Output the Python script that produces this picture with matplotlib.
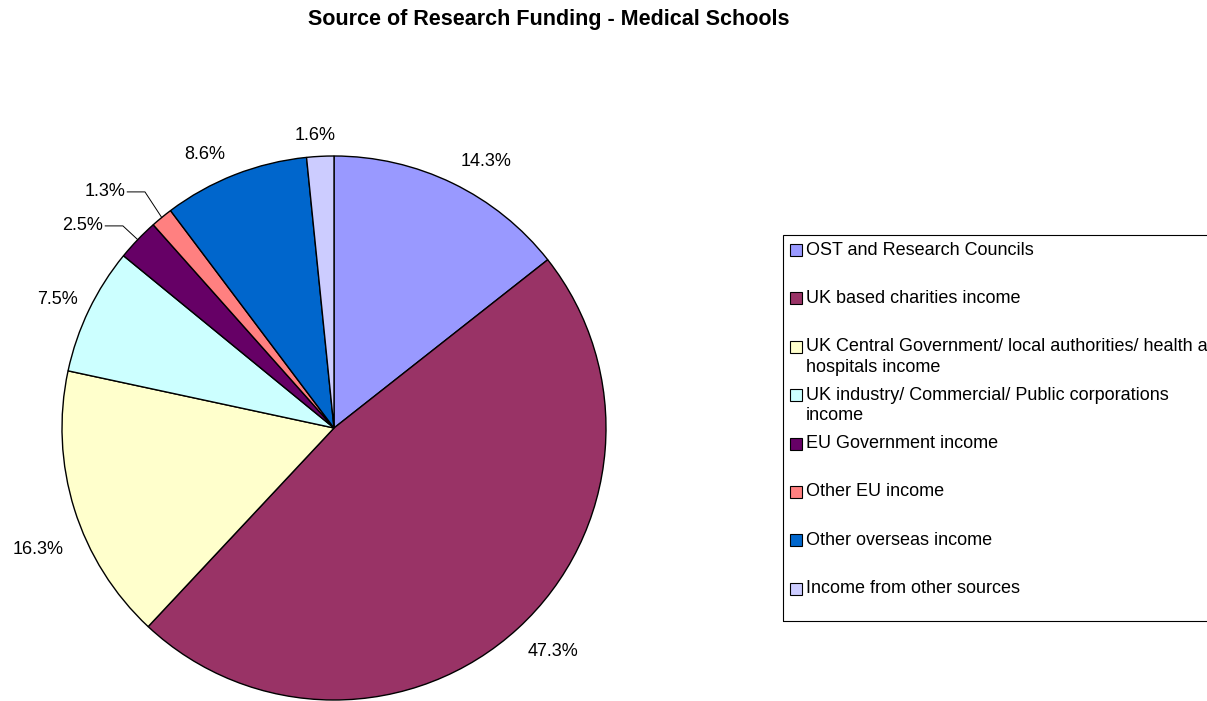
import numpy as np
import matplotlib
matplotlib.use("Agg")
import matplotlib.pyplot as plt
from matplotlib.patches import Rectangle

# ==============================
# DATA
# ==============================
sources = [
    "OST and Research Councils",
    "UK based charities income",
    "UK Central Government/ local authorities/ health and\nhospitals income",
    "UK industry/ Commercial/ Public corporations\nincome",
    "EU Government income",
    "Other EU income",
    "Other overseas income",
    "Income from other sources",
]
shares = [14.3, 47.3, 16.3, 7.5, 2.5, 1.3, 8.6, 1.6]
colors = ["#9999FF", "#993366", "#FFFFCC", "#CCFFFF",
          "#660066", "#FF8080", "#0066CC", "#CCCCFF"]

# label anchors in pie-radius units; None -> leader line (text right end, elbow x)
label_pos = [(0.559, 0.978), (0.805, -0.820), (-1.088, -0.445), (-1.015, 0.471),
             None, None, (-0.474, 1.007), (-0.070, 1.077)]
leader = {4: (-0.849, 0.743, -0.776), 5: (-0.768, 0.868, -0.695)}

plt.rcParams["font.family"] = ["Liberation Sans", "DejaVu Sans"]
FS = 13

W, H = 1207, 701
fig = plt.figure(figsize=(W / 100, H / 100), dpi=100)

def fx(px):
    return px / W

def fy(py):
    return 1 - py / H

fig.text(fx(549), fy(19), "Source of Research Funding - Medical Schools",
         ha="center", va="center", fontsize=15.5, fontweight="bold")

# ==============================
# PIE
# ==============================
cx, cy, r = 334, 428, 272
ax = fig.add_axes([fx(cx - r), fy(cy + r), 2 * r / W, 2 * r / H])
wedges, _ = ax.pie(shares, colors=colors, startangle=90, counterclock=False,
                   wedgeprops=dict(edgecolor="black", linewidth=1.0))
ax.set_xlim(-1, 1)
ax.set_ylim(-1, 1)
ax.set_aspect("equal")
ax.axis("off")
for w in wedges:
    w.set_clip_on(False)

for i, (w, v) in enumerate(zip(wedges, shares)):
    mid = np.deg2rad((w.theta1 + w.theta2) / 2)
    txt = f"{v}%"
    if label_pos[i] is not None:
        x, y = label_pos[i]
        ax.text(x, y, txt, ha="center", va="center", fontsize=FS, clip_on=False)
    else:
        tx, ty, ex = leader[i]
        ax.plot([np.cos(mid), ex, tx + 0.008], [np.sin(mid), ty, ty],
                color="black", lw=0.7, clip_on=False)
        ax.text(tx, ty, txt, ha="right", va="center", fontsize=FS,
                clip_on=False)

# ==============================
# LEGEND
# ==============================
fig.patches.append(Rectangle((fx(783), fy(621)), fx(1220 - 783), (621 - 235) / H,
                             transform=fig.transFigure, facecolor="none",
                             edgecolor="black", lw=0.8))
for i, (name, c) in enumerate(zip(sources, colors)):
    y = 250 + i * 48.4
    fig.patches.append(Rectangle((fx(790), fy(y + 6)), 12 / W, 12 / H,
                                 transform=fig.transFigure, facecolor=c,
                                 edgecolor="black", lw=0.8))
    lines = name.split("\n")
    fig.text(fx(806), fy(y), lines[0], ha="left", va="center", fontsize=FS)
    if len(lines) > 1:
        fig.text(fx(806), fy(y + 20.5), lines[1], ha="left", va="center",
                 fontsize=FS)

fig.savefig("out.png", dpi=100)
